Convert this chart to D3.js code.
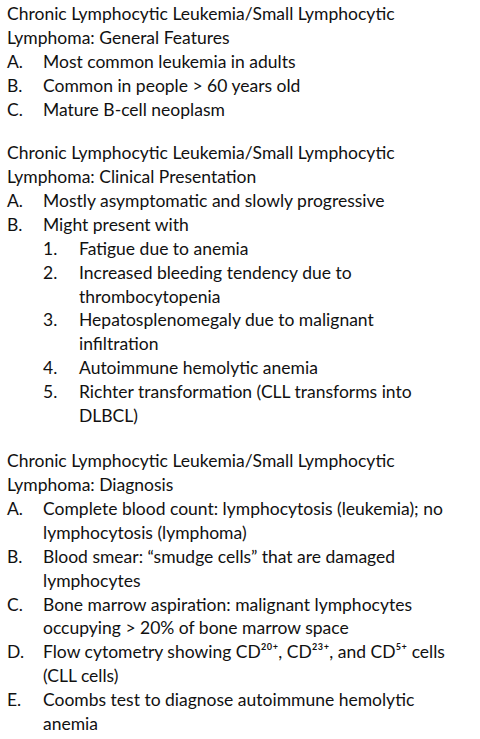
<!DOCTYPE html>
<html><head><meta charset="utf-8">
<script src="https://cdn.jsdelivr.net/npm/d3@7"></script>
<style>body{margin:0;background:#fff}</style>
</head><body><div id="viz"></div>
<script>
// each row: [level, marker, text]; level 0 = heading, 1 = letter item, 2 = numbered item
var section1 = [
  [0, "", "Chronic Lymphocytic Leukemia/Small Lymphocytic"],
  [0, "", "Lymphoma: General Features"],
  [1, "A.", "Most common leukemia in adults"],
  [1, "B.", "Common in people > 60 years old"],
  [1, "C.", "Mature B-cell neoplasm"]
];
var section2 = [
  [0, "", "Chronic Lymphocytic Leukemia/Small Lymphocytic"],
  [0, "", "Lymphoma: Clinical Presentation"],
  [1, "A.", "Mostly asymptomatic and slowly progressive"],
  [1, "B.", "Might present with"],
  [2, "1.", "Fatigue due to anemia"],
  [2, "2.", "Increased bleeding tendency due to"],
  [2, "", "thrombocytopenia"],
  [2, "3.", "Hepatosplenomegaly due to malignant"],
  [2, "", "infiltration"],
  [2, "4.", "Autoimmune hemolytic anemia"],
  [2, "5.", "Richter transformation (CLL transforms into"],
  [2, "", "DLBCL)"]
];
var section3 = [
  [0, "", "Chronic Lymphocytic Leukemia/Small Lymphocytic"],
  [0, "", "Lymphoma: Diagnosis"],
  [1, "A.", "Complete blood count: lymphocytosis (leukemia); no"],
  [1, "", "lymphocytosis (lymphoma)"],
  [1, "B.", "Blood smear: \u201csmudge cells\u201d that are damaged"],
  [1, "", "lymphocytes"],
  [1, "C.", "Bone marrow aspiration: malignant lymphocytes"],
  [1, "", "occupying > 20% of bone marrow space"],
  [1, "D.", "Flow cytometry showing CD\u00b2\u2070\u207a, CD\u00b2\u00b3\u207a, and CD\u2075\u207a cells"],
  [1, "", "(CLL cells)"],
  [1, "E.", "Coombs test to diagnose autoimmune hemolytic"],
  [1, "", "anemia"]
];
var sectionTops = [14, 153, 461];
var sections = [section1, section2, section3];

var svg = d3.select('#viz').append('svg').attr('width', 480).attr('height', 739);
var lineH = 23.9;
var markX = {0: 7, 1: 7, 2: 43}, textX = {0: 7, 1: 43, 2: 79};

sections.forEach(function(rows, s) {
  var g = svg.append('g').attr('font-family', 'Lato, "Open Sans", sans-serif')
    .attr('font-size', 17.5).attr('fill', '#111');
  rows.forEach(function(r, i) {
    var y = sectionTops[s] + i * lineH;
    if (r[1]) g.append('text').attr('x', markX[r[0]]).attr('y', y).attr('dy', '0.35em').text(r[1]);
    g.append('text').attr('x', textX[r[0]]).attr('y', y).attr('dy', '0.35em').text(r[2]);
  });
});
</script></body></html>
